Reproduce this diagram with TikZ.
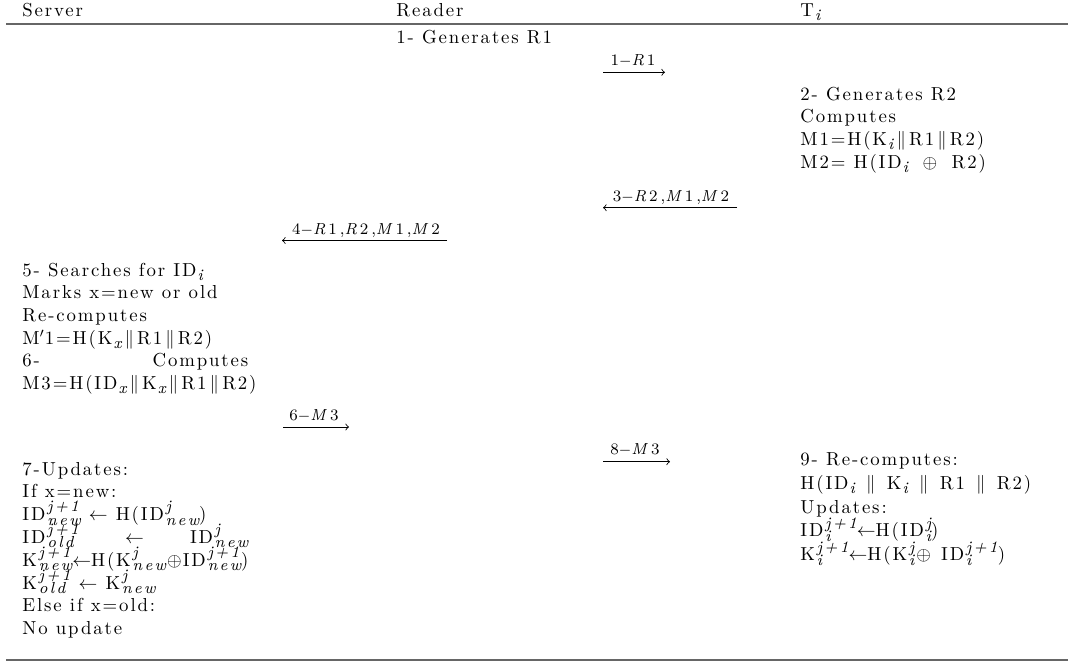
\documentclass[tikz,border=0pt]{standalone}
\usepackage{fontspec}
\newfontfamily\mainf{lmroman10-regular.otf}[LetterSpace=10,ItalicFont=lmroman10-italic.otf]
\newfontfamily\labf{lmroman8-regular.otf}[LetterSpace=18,ItalicFont=lmroman8-italic.otf]
\newfontfamily\scrf{lmroman8-italic.otf}[LetterSpace=14]
\newcommand\scr[1]{{\scrf\fontsize{8.5}{9}\selectfont #1}}
\newcommand\sbx[1]{\kern0.6pt\smash{\lower2.2pt\hbox{\scr{#1}}}}
\newcommand\ssx[2]{\kern1pt\setbox0\hbox{\scr{#1}}\setbox2\hbox{\scr{#2}}%
  \dimen0=\wd0 \ifdim\wd2>\dimen0 \dimen0=\wd2 \fi
  \hbox to\dimen0{\smash{\rlap{\raise4.6pt\box0}\lower2.4pt\box2}\hss}}
\newcommand\pp{$\mkern3mu\|\mkern3mu$}
\newcommand\opl[1]{$\mkern#1mu\oplus\mkern#1mu$}
\tikzset{
  txt/.style={anchor=base west, inner sep=0pt, font=\mainf\fontsize{10}{12}\selectfont},
  lab/.style={anchor=base, inner sep=0pt, font=\labf\fontsize{8.5}{9}\selectfont},
  arr/.style={->, line width=0.45pt},
  hrule/.style={line width=0.9pt, draw=black!60}
}
\begin{document}
\begin{tikzpicture}[x=0.532pt, y=-0.532pt]
\useasboundingbox (0,0) rectangle (1068,666);
% header
\node[txt] (hs) at (22,16.5) {Server};
\node[txt] (hr) at (396,16.5) {Reader};
\node[txt] (ht) at (800,16.5) {T\sbx{i}};
\coordinate (ra) at (6,24); \coordinate (rb) at (1068,24);
\draw[hrule] (ra) -- (rb);
% reader
\node[txt] (rd1) at (396,43) {1- Generates R1};
% arrow 1
\coordinate (a1s) at (603,72.3); \coordinate (a1e) at (665,72.3);
\draw[arr] (a1s) -- (a1e);
\node[lab] (l1) at (633,65) {1$-$\textit{R}1};
% tag block 1
\node[txt] (t1) at (800,100) {2- Generates R2};
\node[txt] (t2) at (800,122.7) {Computes};
\node[txt] (t3) at (800,145.4) {M1=H(K\sbx{i}\pp R1\pp R2)};
\node[txt] (t4) at (800,168.1) {M2= H(ID\sbx{i} \opl{6} R2)};
% arrow 3
\coordinate (a3s) at (737,207.7); \coordinate (a3e) at (603,207.7);
\draw[arr] (a3s) -- (a3e);
\node[lab] (l3) at (671,201.5) {3$-$\textit{R}2,\textit{M}1,\textit{M}2};
% arrow 4
\coordinate (a4s) at (447,240.5); \coordinate (a4e) at (282,240.5);
\draw[arr] (a4s) -- (a4e);
\node[lab] (l4) at (366,234) {4$-$\textit{R}1,\textit{R}2,\textit{M}1,\textit{M}2};
% server block 1
\node[txt] (s1) at (22,276) {5- Searches for ID\sbx{i}};
\node[txt] (s2) at (22,298.7) {Marks x=new or old};
\node[txt] (s3) at (22,321.4) {Re-computes};
\node[txt] (s4) at (22,344.1) {M$'$1=H(K\sbx{x}\pp R1\pp R2)};
\node[txt] (s5) at (22,366.8) {\hbox to 120.2pt{6-\hfill Computes}};
\node[txt] (s6) at (22,389.5) {M3=H(ID\sbx{x}\pp K\sbx{x}\pp R1\pp R2)};
% arrow 6
\coordinate (a6s) at (283,427); \coordinate (a6e) at (349,427);
\draw[arr] (a6s) -- (a6e);
\node[lab] (l6) at (314,420.5) {6$-$\textit{M}3};
% arrow 8
\coordinate (a8s) at (603,461.7); \coordinate (a8e) at (670,461.7);
\draw[arr] (a8s) -- (a8e);
\node[lab] (l8) at (635,454.5) {8$-$\textit{M}3};
% server block 2
\node[txt] (u1) at (22,475) {7-Updates:};
\node[txt] (u2) at (22,497.8) {If x=new:};
\node[txt] (u3) at (22,520.6) {ID\ssx{j+1}{new} $\leftarrow$ H(ID\ssx{j}{new})};
\node[txt] (u4) at (22,543.4) {\hbox to 120.2pt{ID\ssx{j+1}{old}\hfill$\leftarrow$\hfill ID\ssx{j}{new}}};
\node[txt] (u5) at (22,566.2) {K\ssx{j+1}{new}$\leftarrow$H(K\ssx{j}{new}\opl{1}ID\ssx{j+1}{new})};
\node[txt] (u6) at (22,589) {K\ssx{j+1}{old} $\leftarrow$ K\ssx{j}{new}};
\node[txt] (u7) at (22,611.8) {Else if x=old:};
\node[txt] (u8) at (22,634.6) {No update};
% tag block 2
\node[txt] (v1) at (800,465.5) {9- Re-computes:};
\node[txt] (v2) at (800,489.3) {H(ID\sbx{i} \pp{} K\sbx{i} \pp{} R1 \pp{} R2)};
\node[txt] (v3) at (800,513.1) {Updates:};
\node[txt] (v4) at (800,536.9) {ID\ssx{j+1}{i}$\leftarrow$H(ID\ssx{j}{i})};
\node[txt] (v5) at (800,560.7) {K\ssx{j+1}{i}$\leftarrow$H(K\ssx{j}{i}\opl{2} ID\ssx{j+1}{i})};
% bottom rule
\coordinate (rc) at (6,660); \coordinate (rd) at (1068,660);
\draw[hrule] (rc) -- (rd);
\end{tikzpicture}
\end{document}
